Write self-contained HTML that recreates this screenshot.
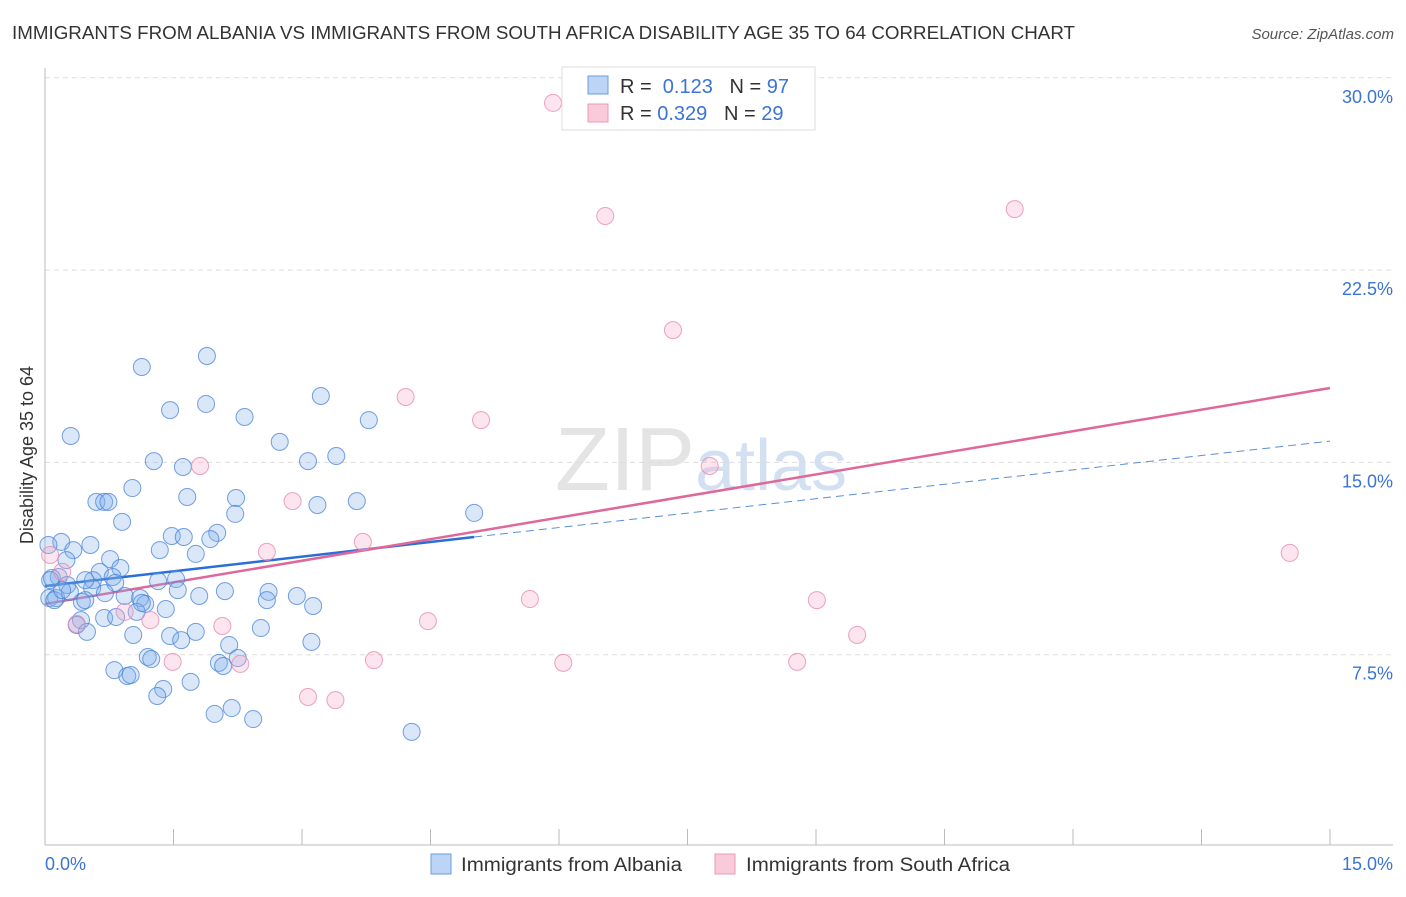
<!DOCTYPE html>
<html><head><meta charset="utf-8"><style>
body{margin:0;background:#fff;font-family:"Liberation Sans",sans-serif;}
svg text{font-family:"Liberation Sans",sans-serif;}
</style></head><body>
<svg id="chart" width="1406" height="892" xmlns="http://www.w3.org/2000/svg">
<text x="12" y="39" font-size="18" fill="#333" textLength="1063" lengthAdjust="spacingAndGlyphs">IMMIGRANTS FROM ALBANIA VS IMMIGRANTS FROM SOUTH AFRICA DISABILITY AGE 35 TO 64 CORRELATION CHART</text>
<text x="1394" y="39" font-size="15" fill="#555" font-style="italic" text-anchor="end">Source: ZipAtlas.com</text>
<text x="555" y="490" font-size="90" fill="#e4e4e4" font-family="Liberation Serif">ZIP<tspan fill="#d3e0f2" font-family="Liberation Sans" font-size="72">atlas</tspan></text>
<g id="grid"></g><g id="axes"></g><g id="lines"></g><g id="points"></g>
<text transform="translate(33,455) rotate(-90)" font-size="18" fill="#333" text-anchor="middle">Disability Age 35 to 64</text>
<g>
<rect x="562" y="67" width="253" height="63" fill="#fff" stroke="#ddd"/>
<rect x="588" y="76" width="20" height="18" fill="#bcd4f5" stroke="#6a9be0"/>
<rect x="588" y="104" width="20" height="18" fill="#f9cad9" stroke="#e99ab5"/>
<text x="620" y="93" font-size="20" fill="#333">R = <tspan fill="#3a74d4">&#160;0.123</tspan>&#160;&#160;&#160;N = <tspan fill="#3a74d4">97</tspan></text>
<text x="620" y="120" font-size="20" fill="#333">R = <tspan fill="#3a74d4">0.329</tspan>&#160;&#160;&#160;N = <tspan fill="#3a74d4">29</tspan></text>
</g>
<g>
<rect x="431" y="854" width="20" height="20" fill="#bcd4f5" stroke="#6a9be0"/>
<text x="461" y="871" font-size="19" fill="#333" textLength="221" lengthAdjust="spacingAndGlyphs">Immigrants from Albania</text>
<rect x="715" y="854" width="20" height="20" fill="#f9cad9" stroke="#e99ab5"/>
<text x="746" y="871" font-size="19" fill="#333" textLength="264" lengthAdjust="spacingAndGlyphs">Immigrants from South Africa</text>
</g>
</svg>
<script>
const blueX=[1.13,1.89,1.46,1.88,2.33,3.22,3.78,0.30,2.74,1.27,1.61,3.07,3.40,0.60,0.69,0.74,1.02,1.66,2.23,3.64,3.18,2.22,5.01,0.90,1.48,1.62,2.01,1.93,1.34,1.76,0.19,0.04,0.53,0.33,0.76,0.25,1.53,1.32,0.64,0.88,0.79,0.56,0.16,0.08,0.26,0.55,1.55,0.93,1.11,1.80,2.10,2.61,2.94,2.59,3.13,0.05,0.13,0.43,1.17,1.41,1.07,0.69,0.83,0.42,0.37,0.49,1.03,1.46,1.76,2.52,1.59,3.11,2.15,1.20,1.24,2.25,2.03,2.08,0.81,0.96,1.00,1.70,1.38,1.31,1.98,2.18,2.43,4.28,0.06,0.11,0.29,0.82,0.20,0.47,1.13,0.47,0.70];
const blueY=[18.72,19.15,17.04,17.28,16.77,17.59,16.65,16.03,15.80,15.05,14.82,15.05,15.25,13.46,13.46,13.46,14.00,13.65,13.61,13.49,13.34,12.99,13.03,12.68,12.13,12.09,12.25,12.01,11.58,11.43,11.90,11.78,11.78,11.58,11.23,11.19,10.45,10.37,10.73,10.88,10.53,10.41,10.53,10.49,10.22,10.10,10.02,9.79,9.71,9.79,9.98,9.95,9.79,9.63,9.40,9.71,9.71,9.56,9.48,9.28,9.17,8.93,8.97,8.85,8.66,8.39,8.27,8.23,8.39,8.54,8.07,8.00,7.88,7.41,7.33,7.37,7.18,7.06,6.90,6.67,6.71,6.44,6.16,5.89,5.19,5.42,4.99,4.49,10.41,9.63,9.95,10.30,10.02,9.63,9.52,10.41,9.90];
const pinkX=[5.93,6.54,11.32,7.33,4.21,5.09,1.81,7.76,2.89,3.71,2.59,14.53,5.66,9.01,1.23,2.07,4.47,0.93,0.37,9.48,1.49,2.28,3.84,6.05,8.78,3.07,3.39,0.06,0.20];
const pinkY=[29.02,24.61,24.88,20.16,17.55,16.65,14.86,14.86,13.49,11.90,11.51,11.47,9.67,9.63,8.85,8.62,8.81,9.17,8.70,8.27,7.22,7.14,7.29,7.18,7.22,5.85,5.73,11.39,10.73];
const yTicks=[7.5,15.0,22.5,30.0];
const yTickLabels=["7.5%","15.0%","22.5%","30.0%"];
const xTickValues=[0,1.5,3,4.5,6,7.5,9,10.5,12,13.5,15];
const blueTrend=[10.18,12.09,15.83];
const blueTrendX=[0,5.01,15];
const pinkTrend=[9.48,17.90];
const pinkTrendX=[0,15];

const NS="http://www.w3.org/2000/svg";
const xs=v=>45+v/15*1285;
const ys=v=>847-v/7.5*192.3;
function mk(tag,attrs,parent){const e=document.createElementNS(NS,tag);for(const k in attrs)e.setAttribute(k,attrs[k]);document.getElementById(parent).appendChild(e);return e;}

yTicks.forEach((t,i)=>{
  const g=mk('line',{x1:45,x2:1393,y1:ys(t),y2:ys(t),stroke:'#ddd','stroke-dasharray':'5,4'},'grid');
  
  
  const tx=mk('text',{x:1393,y:ys(t)+25,'font-size':18,fill:'#3a74d4','text-anchor':'end'},'axes');
  tx.textContent=yTickLabels[i];
  
  
});
const ax=mk('line',{x1:45,x2:45,y1:68,y2:845,stroke:'#bbb'},'axes');


const bx=mk('line',{x1:45,x2:1393,y1:845,y2:845,stroke:'#bbb'},'axes');


xTickValues.forEach(v=>{
  const t=mk('line',{x1:xs(v),x2:xs(v),y1:829,y2:845,stroke:'#bbb'},'axes');
  
  
});
const xl0=mk('text',{x:45,y:870,'font-size':18,fill:'#3a74d4'},'axes');xl0.textContent='0.0%';


const xl1=mk('text',{x:1393,y:870,'font-size':18,fill:'#3a74d4','text-anchor':'end'},'axes');xl1.textContent='15.0%';



blueX.forEach((x,i)=>{
  const c=mk('circle',{cx:xs(x),cy:ys(blueY[i]),r:8.5,fill:'rgba(130,175,235,0.3)',stroke:'rgba(70,130,215,0.75)','stroke-width':1},'points');
  
  
});
pinkX.forEach((x,i)=>{
  const c=mk('circle',{cx:xs(x),cy:ys(pinkY[i]),r:8.5,fill:'rgba(245,170,200,0.3)',stroke:'rgba(230,140,175,0.8)','stroke-width':1},'points');
  
  
});
const bl=mk('line',{x1:xs(blueTrendX[0]),y1:ys(blueTrend[0]),x2:xs(blueTrendX[1]),y2:ys(blueTrend[1]),stroke:'#2a6fd6','stroke-width':2.5},'lines');


const bd=mk('line',{x1:xs(blueTrendX[1]),y1:ys(blueTrend[1]),x2:xs(blueTrendX[2]),y2:ys(blueTrend[2]),stroke:'#5a8ed8','stroke-width':1,'stroke-dasharray':'8,5'},'lines');


const pl=mk('line',{x1:xs(pinkTrendX[0]),y1:ys(pinkTrend[0]),x2:xs(pinkTrendX[1]),y2:ys(pinkTrend[1]),stroke:'#e0679a','stroke-width':2.5},'lines');


</script>
</body></html>
